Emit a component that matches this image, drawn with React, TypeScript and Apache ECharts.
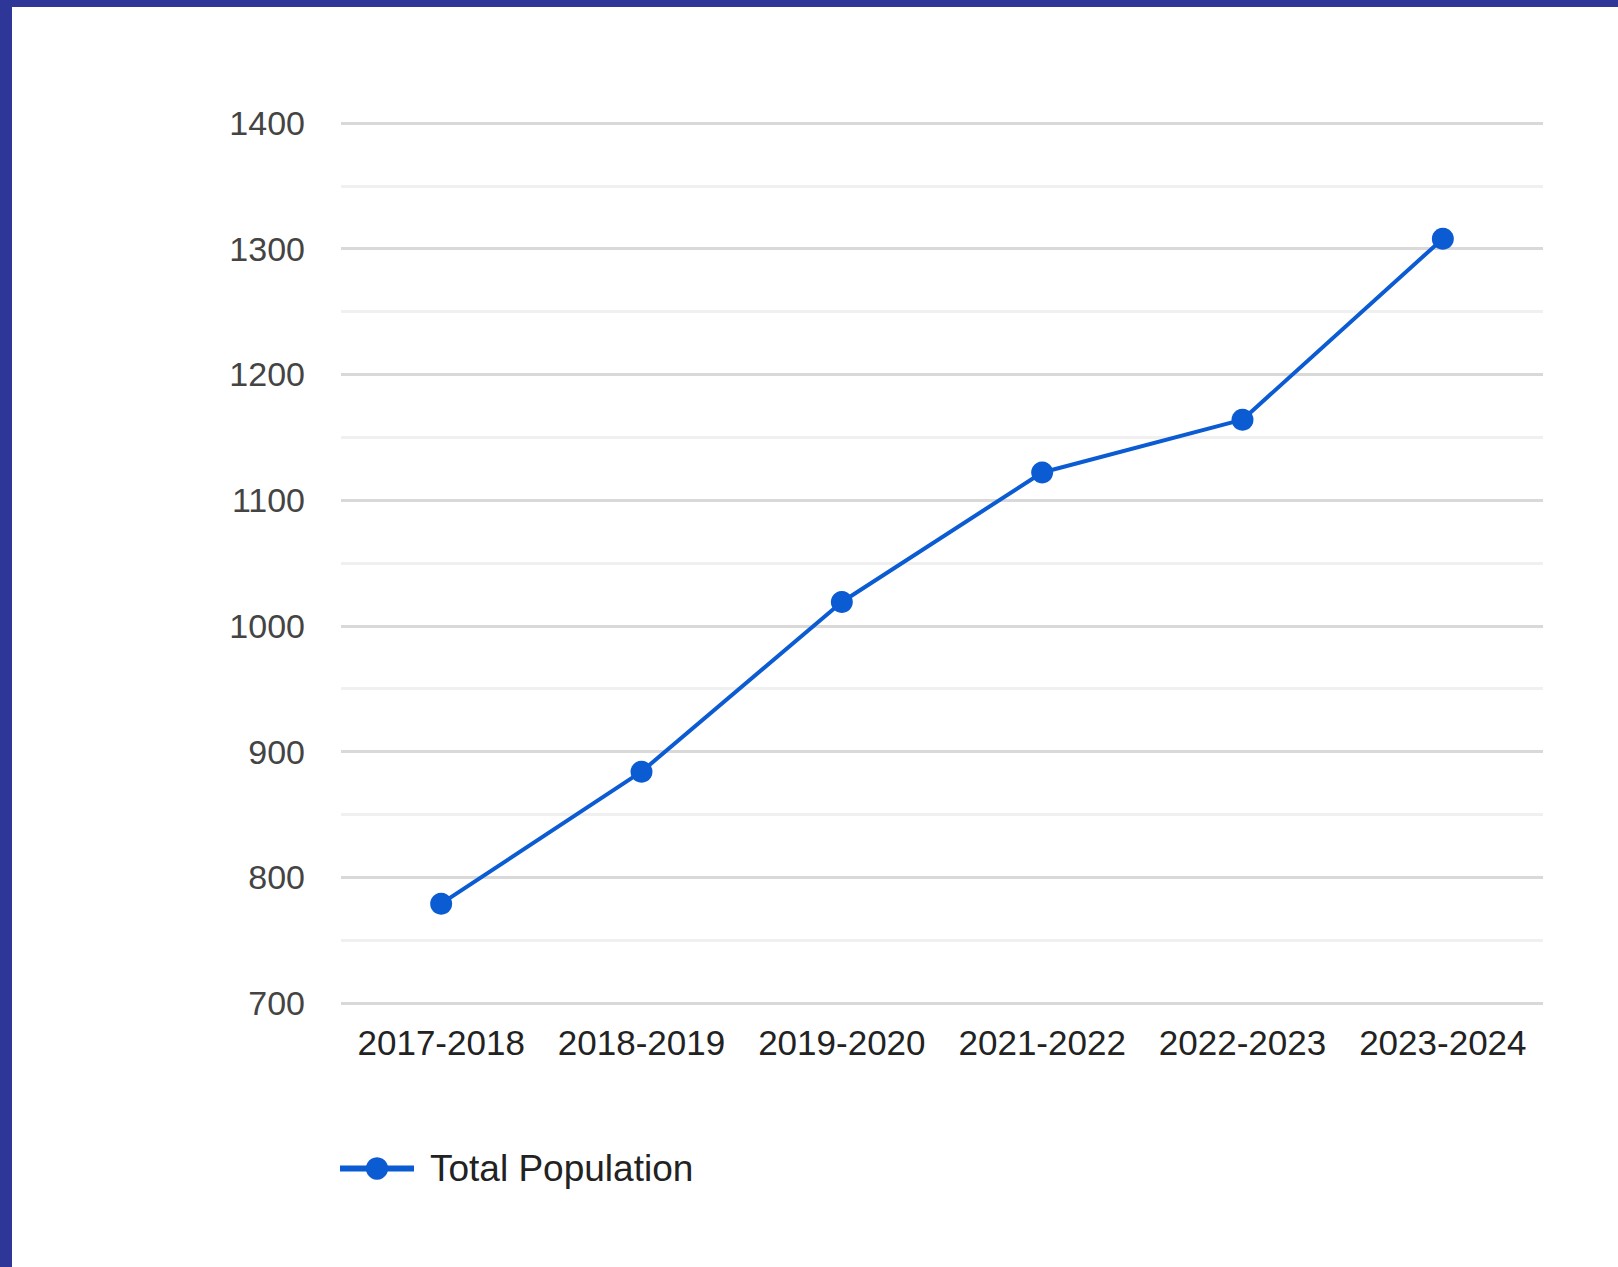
import React, { useEffect, useRef } from "react";
import * as echarts from "echarts";

const categories = ["2017-2018", "2018-2019", "2019-2020", "2021-2022", "2022-2023", "2023-2024"];
const populationValues = [779, 884, 1019, 1122, 1164, 1308];
const seriesName = "Total Population";
const yMin = 700;
const yMax = 1400;
const yInterval = 100;

export default function App() {
  const ref = useRef<HTMLDivElement>(null);
  useEffect(() => {
    if (!ref.current) return;
    const chart = echarts.init(ref.current, null, { renderer: "svg" });
    const font = "'Liberation Sans', Arial, sans-serif";
    chart.setOption({
      animation: false,
      backgroundColor: "#ffffff",
      grid: { left: 329, right: 75, top: 116, bottom: 264, containLabel: false },
      legend: {
        show: true,
        left: 320,
        top: 1138,
        itemWidth: 74,
        itemHeight: 28,
        lineStyle: { width: 6 },
        textStyle: { fontFamily: font, fontSize: 37, color: "#222222", padding: [0, 0, 0, 11] },
        data: [seriesName],
      },
      xAxis: {
        type: "category",
        data: categories,
        boundaryGap: true,
        axisLine: { show: false },
        axisTick: { show: false },
        axisLabel: { fontFamily: font, fontSize: 35, color: "#222222", margin: 22, interval: 0 },
      },
      yAxis: {
        type: "value",
        min: yMin,
        max: yMax,
        interval: yInterval,
        axisLine: { show: false },
        axisTick: { show: false },
        axisLabel: {
          fontFamily: font,
          fontSize: 34,
          color: "#444444",
          margin: 36,
          formatter: (v: number) => String(v),
        },
        splitLine: { show: true, lineStyle: { color: "#d9d9d9", width: 3 } },
        minorTick: { show: false, splitNumber: 2 },
        minorSplitLine: { show: true, lineStyle: { color: "#f0f0f0", width: 3 } },
      },
      series: [
        {
          name: seriesName,
          type: "line",
          data: populationValues,
          symbol: "circle",
          symbolSize: 22,
          lineStyle: { color: "#0b5bd3", width: 4 },
          itemStyle: { color: "#0b5bd3" },
        },
      ],
    });
    return () => chart.dispose();
  }, []);
  return (
    <div
      style={{
        position: "absolute",
        left: 0,
        top: 0,
        width: 1618,
        height: 1267,
        boxSizing: "border-box",
        borderTop: "7px solid #2e3797",
        borderLeft: "12px solid #2e3797",
        background: "#ffffff",
      }}
    >
      <div ref={ref} style={{ width: 1606, height: 1260 }} />
    </div>
  );
}
